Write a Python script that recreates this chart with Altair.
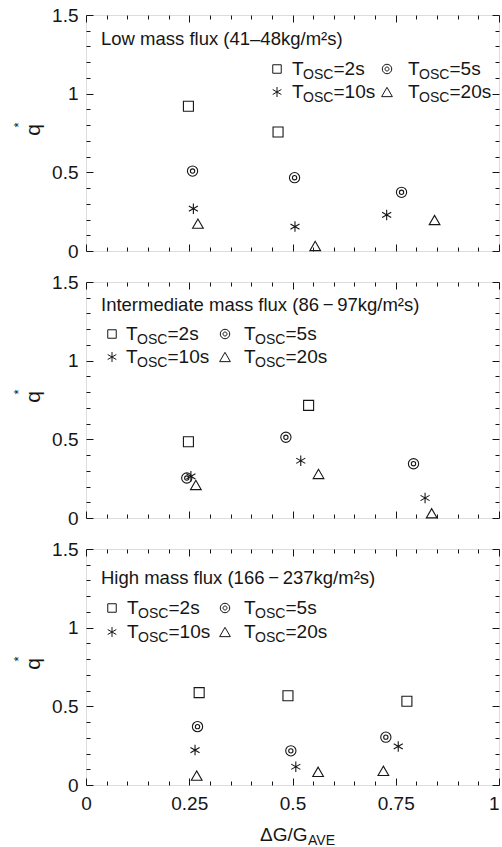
import altair as alt
import pandas as pd

# ---------------- data ----------------
SERIES = ["2s", "5s", "10s", "20s"]

PANEL_LABELS = [
    "Low mass flux (41\u201348kg/m\u00b2s)",
    "Intermediate mass flux (86\u2009\u2212\u200997kg/m\u00b2s)",
    "High mass flux (166\u2009\u2212\u2009237kg/m\u00b2s)",
]

LOW_2S_X = [0.248, 0.465]
LOW_2S_Y = [0.920, 0.756]
LOW_5S_X = [0.258, 0.505, 0.764]
LOW_5S_Y = [0.508, 0.466, 0.373]
LOW_10S_X = [0.260, 0.506, 0.728]
LOW_10S_Y = [0.269, 0.155, 0.229]
LOW_20S_X = [0.271, 0.555, 0.844]
LOW_20S_Y = [0.174, 0.032, 0.197]

MID_2S_X = [0.248, 0.539]
MID_2S_Y = [0.485, 0.716]
MID_5S_X = [0.244, 0.484, 0.793]
MID_5S_Y = [0.254, 0.513, 0.345]
MID_10S_X = [0.254, 0.520, 0.821]
MID_10S_Y = [0.265, 0.364, 0.127]
MID_20S_X = [0.266, 0.563, 0.837]
MID_20S_Y = [0.210, 0.280, 0.030]

HIGH_2S_X = [0.274, 0.489, 0.777]
HIGH_2S_Y = [0.587, 0.567, 0.532]
HIGH_5S_X = [0.270, 0.496, 0.726]
HIGH_5S_Y = [0.371, 0.217, 0.304]
HIGH_10S_X = [0.264, 0.508, 0.756]
HIGH_10S_Y = [0.222, 0.116, 0.245]
HIGH_20S_X = [0.268, 0.562, 0.720]
HIGH_20S_Y = [0.060, 0.084, 0.090]

X_MAJOR = [0, 0.25, 0.5, 0.75, 1]
X_MINOR = [0.05, 0.1, 0.15, 0.2, 0.3, 0.35, 0.4, 0.45, 0.55, 0.6, 0.65, 0.7,
           0.8, 0.85, 0.9, 0.95]
Y_MAJOR = [0, 0.5, 1, 1.5]
Y_MINOR = [0.1, 0.2, 0.3, 0.4, 0.6, 0.7, 0.8, 0.9, 1.1, 1.2, 1.3, 1.4]

X_TITLE_MAIN = "\u0394G/G"
X_TITLE_SUB = "AVE"
Y_TITLE = "q"
Y_TITLE_SUP = "*"
LEG_T = "T"
LEG_SUB = "OSC"


def table(series_xy):
    rows = []
    for s, xs, ys in series_xy:
        for a, b in zip(xs, ys):
            rows.append({"series": s, "x": a, "y": b})
    return pd.DataFrame(rows)


DF_LOW = table([("2s", LOW_2S_X, LOW_2S_Y), ("5s", LOW_5S_X, LOW_5S_Y),
                ("10s", LOW_10S_X, LOW_10S_Y), ("20s", LOW_20S_X, LOW_20S_Y)])
DF_MID = table([("2s", MID_2S_X, MID_2S_Y), ("5s", MID_5S_X, MID_5S_Y),
                ("10s", MID_10S_X, MID_10S_Y), ("20s", MID_20S_X, MID_20S_Y)])
DF_HIGH = table([("2s", HIGH_2S_X, HIGH_2S_Y), ("5s", HIGH_5S_X, HIGH_5S_Y),
                 ("10s", HIGH_10S_X, HIGH_10S_Y), ("20s", HIGH_20S_X, HIGH_20S_Y)])

# ---------------- style ----------------
INK = "#161616"
FONT = "Liberation Sans"
W, H = 413, 236

BULLSEYE = ("M1,0A1,1,0,1,1,-1,0A1,1,0,1,1,1,0Z"
            "M0.42,0A0.42,0.42,0,1,1,-0.42,0A0.42,0.42,0,1,1,0.42,0Z")
ASTER = "M0,-1L0,1M-0.866,-0.5L0.866,0.5M-0.866,0.5L0.866,-0.5"
SHAPES = ["square", BULLSEYE, ASTER, "triangle-up"]
SIZES = [100, 115, 125, 150]
LEG_SIZES = [72, 90, 100, 115]

XS = alt.Scale(domain=[0, 1], nice=False, zero=False)
YS = alt.Scale(domain=[0, 1.5], nice=False, zero=False)


def ax(orient, values, size, labels):
    kw = dict(orient=orient, values=values, tickSize=size, offset=-size,
              domain=False, grid=False, labels=labels, title=None,
              tickColor=INK, tickWidth=1, minExtent=0)
    if labels:
        kw.update(labelFont=FONT, labelFontSize=19, labelColor=INK,
                  labelExpr="'' + datum.value", labelFlush=False)
        if orient == "bottom":
            kw.update(labelPadding=9,
                      labelAlign={"condition": {"test": "datum.value == 1",
                                                "value": "right"},
                                  "value": "center"})
        else:
            kw.update(labelPadding=8)
    return alt.Axis(**kw)


def text_layer(txt, x, y, size, align="left", baseline="alphabetic", angle=0):
    return alt.Chart(pd.DataFrame({"t": [txt]})).mark_text(
        font=FONT, fontSize=size, color=INK, align=align, baseline=baseline,
        angle=angle,
    ).encode(x=alt.value(x), y=alt.value(y), text="t:N")


def panel(df, label, ann_y, leg_rows, sym_x, txt_x, bottom):
    layers = []
    layers.append(
        alt.Chart(df).mark_point(filled=False, strokeWidth=1.1, opacity=1,
                                 color=INK).encode(
            x=alt.X("x:Q", scale=XS, axis=ax("bottom", X_MAJOR, 7, bottom)),
            y=alt.Y("y:Q", scale=YS, axis=ax("left", Y_MAJOR, 7, True)),
            shape=alt.Shape("series:N", scale=alt.Scale(domain=SERIES, range=SHAPES),
                            legend=None),
            size=alt.Size("series:O", scale=alt.Scale(domain=SERIES, range=SIZES),
                          legend=None),
        )
    )
    layers.append(
        alt.Chart(df).mark_point(opacity=0).encode(
            x=alt.X("x:Q", scale=XS, axis=ax("bottom", X_MINOR, 4, False)),
            y=alt.Y("y:Q", scale=YS, axis=ax("left", Y_MINOR, 4, False)),
        )
    )
    layers.append(
        alt.Chart(df).mark_point(opacity=0).encode(
            x=alt.X("x:Q", scale=XS, axis=ax("top", X_MAJOR, 7, False)),
            y=alt.Y("y:Q", scale=YS, axis=ax("right", Y_MAJOR, 7, False)),
        )
    )
    layers.append(
        alt.Chart(df).mark_point(opacity=0).encode(
            x=alt.X("x:Q", scale=XS, axis=ax("top", X_MINOR, 4, False)),
            y=alt.Y("y:Q", scale=YS, axis=ax("right", Y_MINOR, 4, False)),
        )
    )
    # panel annotation
    layers.append(text_layer(label, 15, ann_y, 18.5))
    # legend (two columns)
    for i, s in enumerate(SERIES):
        col, row = i % 2, i // 2
        sy = leg_rows[row]
        layers.append(
            alt.Chart(pd.DataFrame({"series": [s]})).mark_point(
                filled=False, strokeWidth=1.0, opacity=1, color=INK).encode(
                x=alt.value(sym_x[col]), y=alt.value(sy),
                shape=alt.value(SHAPES[i]), size=alt.value(LEG_SIZES[i]))
        )
        tx = txt_x[col]
        layers.append(text_layer(LEG_T, tx, sy + 6, 19))
        layers.append(text_layer(LEG_SUB, tx + 11, sy + 10, 14))
        layers.append(text_layer("=" + s, tx + 41.5, sy + 6, 19))
    # y title
    layers.append(text_layer(Y_TITLE, -52, H / 2 - 3, 21, align="center",
                             baseline="middle", angle=270))
    layers.append(text_layer(Y_TITLE_SUP, -67, H / 2 - 8, 13, align="center",
                             baseline="middle", angle=270))
    if bottom:
        layers.append(text_layer(X_TITLE_MAIN, 174, H + 56, 19))
        layers.append(text_layer(X_TITLE_SUB, 222, H + 60, 14))
    return alt.layer(*layers).resolve_axis(
        x="independent", y="independent").properties(width=W, height=H)


p1 = panel(DF_LOW, PANEL_LABELS[0], 30, [54, 77], [191, 301], [206, 322], False)
p2 = panel(DF_MID, PANEL_LABELS[1], 29, [52, 75], [26, 139], [40, 158], False)
p3 = panel(DF_HIGH, PANEL_LABELS[2], 35, [59, 83], [26, 139], [41, 158], True)

chart = alt.vconcat(p1, p2, p3, spacing=10).properties(
    padding={"left": 12, "top": 5, "right": 0, "bottom": 0}
).configure_view(stroke=INK, strokeWidth=1.2).configure(font=FONT)

chart.save("out.html", embed_options={"renderer": "svg", "actions": False})
